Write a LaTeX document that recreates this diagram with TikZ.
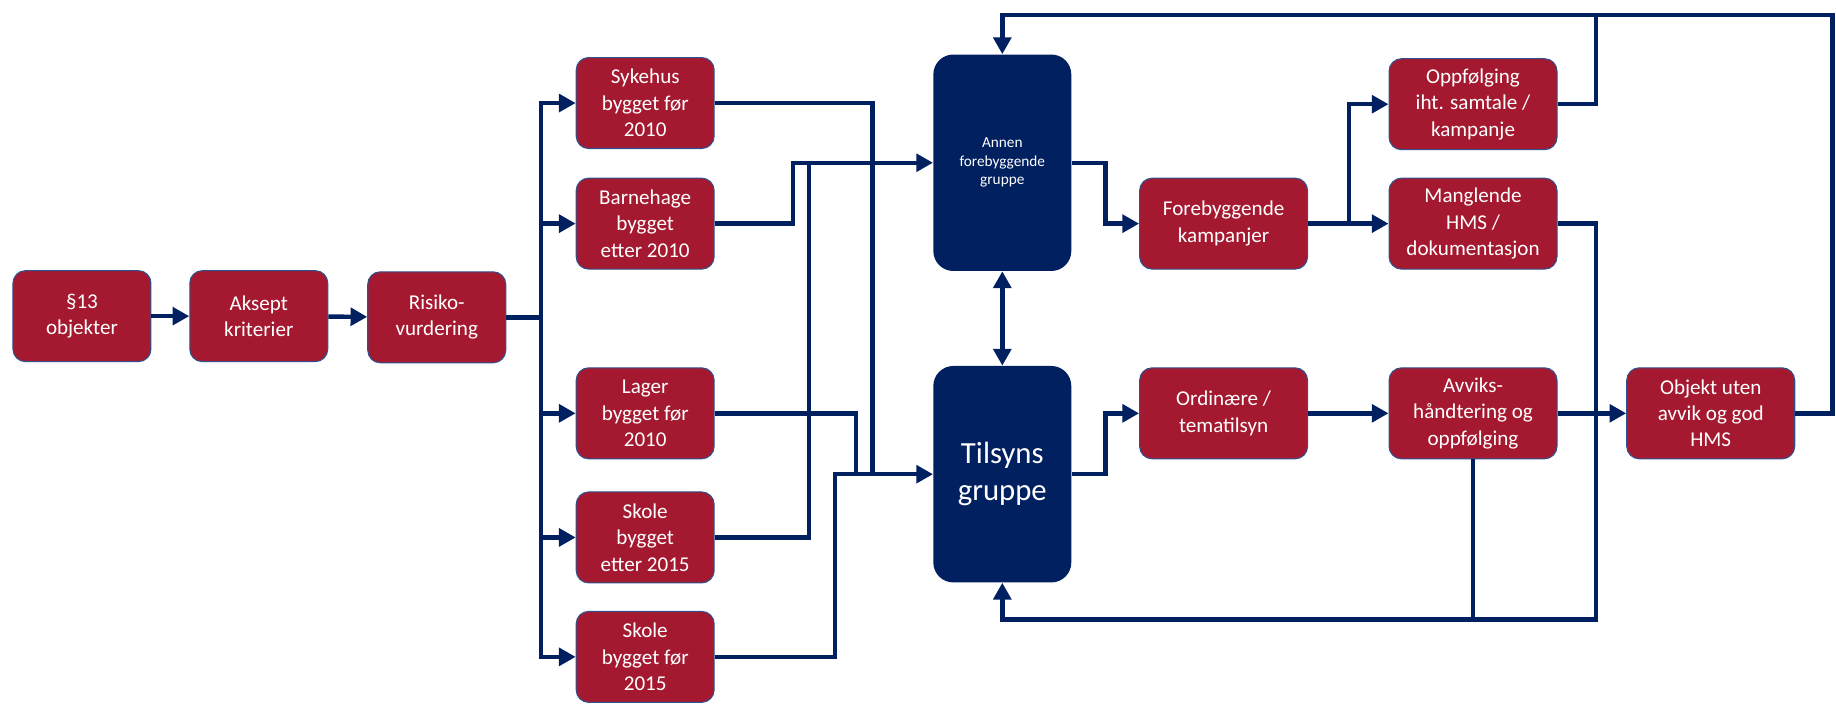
\documentclass[tikz,border=0pt]{standalone}
\usepackage{fontspec}
\setmainfont{Carlito}
\usetikzlibrary{arrows.meta}
\definecolor{navy}{RGB}{0,32,96}
\definecolor{crimson}{RGB}{165,25,48}
\definecolor{rim}{RGB}{47,82,143}

\begin{document}
\begin{tikzpicture}[x=.2342mm, y=.2342mm,
  box/.style={draw=rim, line width=.6pt, fill=crimson, text=white, rounded corners=2.5mm, align=center,
    minimum width=27.6mm, minimum height=18.2mm, inner sep=1pt, font=\fontsize{12}{15}\selectfont},
  widebox/.style={box, minimum width=33.6mm},
  group/.style={fill=navy, text=white, rounded corners=4mm, align=center, minimum width=27.6mm, minimum height=43.3mm},
  link/.style={draw=navy, line width=2.5pt},
  arrow/.style={link, -{Triangle[length=9.5pt, width=10pt]}},
  both/.style={link, {Triangle[length=9.5pt, width=10pt]}-{Triangle[length=9.5pt, width=10pt]}}]
\useasboundingbox (0,0) rectangle (1568,607);

\node [box] (obj13) at (70,337) {§13\\objekter};
\node [box] (aksept) at (221,337) {Aksept\\kriterier};
\node [box] (risiko) at (373,336) {Risiko-\\vurdering};

\node [box] (sykehus) at (551,519) {Sykehus\\bygget før\\2010};
\node [box] (barnehage) at (551,416) {Barnehage\\bygget\\etter 2010};
\node [box] (lager) at (551,254) {Lager\\bygget før\\2010};
\node [box] (skoleetter) at (551,148) {Skole\\bygget\\etter 2015};
\node [box] (skolefor) at (551,46) {Skole\\bygget før\\2015};

\node [group, font=\fontsize{8.7}{10.6}\selectfont] (annen) at (856,468) {Annen\\forebyggende\\gruppe};
\node [group, font=\fontsize{17.5}{21}\selectfont] (tilsyn) at (856,202) {Tilsyns\\gruppe};

\node [widebox] (kampanjer) at (1045,416) {Forebyggende\\kampanjer};
\node [widebox] (oppfolging) at (1258,518) {Oppfølging\\iht. samtale /\\kampanje};
\node [widebox] (manglende) at (1258,416) {Manglende\\HMS /\\dokumentasjon};
\node [widebox] (ordinaere) at (1045,254) {Ordinære /\\tematilsyn};
\node [widebox] (avvik) at (1258,254) {Avviks-\\håndtering og\\oppfølging};
\node [widebox] (objekt) at (1461,254) {Objekt uten\\avvik og god\\HMS};

\coordinate (trunk) at (462,336);
\coordinate (top) at (1363,594);
\coordinate (bottom) at (1363,78);

\path [arrow] (obj13) -- (aksept);
\path [arrow] (aksept) -- (risiko);
\path [link] (risiko) -- (trunk);
\foreach \n in {sykehus, barnehage, lager, skoleetter, skolefor}
  \path [arrow] (trunk) |- (\n);

\path [link] (sykehus) -| (745,202);
\path [link] (lager) -| (731,202);
\path [arrow] (skolefor) -| (713,202) -- (tilsyn);
\path [link] (skoleetter) -| (691,468);
\path [arrow] (barnehage) -| (677,468) -- (annen);

\path [both] (annen) -- (tilsyn);
\path [arrow] (annen) -| (944,416) -- (kampanjer);
\path [arrow] (kampanjer) -| (1152,518) -- (oppfolging);
\path [arrow] (kampanjer) -- (manglende);
\path [arrow] (oppfolging) -| (top) -| (annen.north);
\path [link] (objekt) -| (1565,594) -- (top);

\path [arrow] (tilsyn) -| (944,254) -- (ordinaere);
\path [arrow] (ordinaere) -- (avvik);
\path [arrow] (avvik) -- (objekt);
\path [arrow] (manglende) -| (bottom) -| (tilsyn.south);
\path [link] (avvik) -- (avvik |- bottom);
\end{tikzpicture}
\end{document}
